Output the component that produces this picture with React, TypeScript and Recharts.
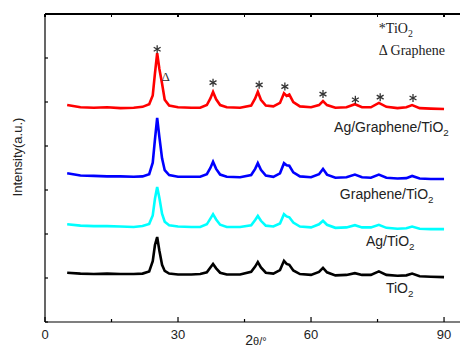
import React from "react"
import { LineChart, Line, XAxis, YAxis, ReferenceDot } from "recharts"

// 2θ positions (degrees)
const twoTheta = [
  5, 8, 11, 14, 17, 20, 22, 23.5, 24.3, 24.8, 25.3, 25.8, 26.4, 27, 28, 30, 33, 35, 36.5, 37.3, 37.9,
  38.6, 39.5, 41, 44, 46.5, 47.4, 48, 48.7, 49.8, 51.5, 53, 53.9, 54.5, 55.1, 56, 57.5, 60, 61.8,
  62.7, 63.6, 65.5, 68, 69.9, 71.5, 73.5, 75.3, 77, 79.5, 81.5, 82.8, 84.5, 87, 90,
]

// stacked intensities (offset a.u.)
const agGrapheneTio2 = [
  4.93, 4.88, 4.87, 4.88, 4.86, 4.87, 4.89, 4.95, 5.15, 5.65, 6.11, 5.75, 5.42, 5.05, 4.92, 4.88, 4.87,
  4.87, 4.93, 5.08, 5.23, 5.06, 4.93, 4.88, 4.87, 4.92, 5.08, 5.23, 5.05, 4.92, 4.9, 4.98, 5.2, 5.14,
  5.17, 5.0, 4.9, 4.88, 4.93, 5.02, 4.93, 4.87, 4.88, 4.95, 4.88, 4.88, 4.98, 4.89, 4.86, 4.88, 4.93,
  4.86, 4.85, 4.84,
]
const grapheneTio2 = [
  3.38, 3.33, 3.32, 3.31, 3.31, 3.3, 3.31, 3.36, 3.62, 4.15, 4.64, 4.2, 3.72, 3.45, 3.34, 3.3, 3.3,
  3.3, 3.36, 3.5, 3.64, 3.48, 3.35, 3.3, 3.29, 3.34, 3.48, 3.61, 3.46, 3.33, 3.3, 3.38, 3.61, 3.56,
  3.55, 3.4, 3.31, 3.29, 3.36, 3.48, 3.35, 3.28, 3.29, 3.35, 3.29, 3.28, 3.35, 3.28, 3.26, 3.27, 3.32,
  3.26, 3.25, 3.25,
]
const agTio2 = [
  2.22, 2.19, 2.18, 2.18, 2.17, 2.16, 2.18, 2.23, 2.42, 2.8, 3.07, 2.82, 2.46, 2.28, 2.2, 2.17, 2.16,
  2.16, 2.22, 2.35, 2.45, 2.33, 2.21, 2.16, 2.16, 2.2, 2.32, 2.41, 2.3, 2.19, 2.17, 2.24, 2.45, 2.4,
  2.38, 2.26, 2.17, 2.15, 2.22, 2.3, 2.21, 2.14, 2.15, 2.2, 2.15, 2.15, 2.21, 2.14, 2.12, 2.13, 2.17,
  2.12, 2.11, 2.11,
]
const tio2 = [
  1.12, 1.1, 1.09, 1.1, 1.09, 1.09, 1.1, 1.15, 1.38, 1.75, 1.93, 1.62, 1.3, 1.16, 1.1, 1.08, 1.08,
  1.09, 1.13, 1.24, 1.32, 1.22, 1.12, 1.08, 1.08, 1.14, 1.26, 1.36, 1.24, 1.12, 1.1, 1.18, 1.39, 1.32,
  1.3, 1.17, 1.09, 1.07, 1.14, 1.23, 1.13, 1.06, 1.07, 1.11, 1.07, 1.07, 1.15, 1.07, 1.05, 1.06, 1.1,
  1.04, 1.03, 1.02,
]

// TiO2 peak markers (*) on top curve
const starTheta = [25.3, 37.9, 48.3, 54.1, 62.7, 70.0, 75.6, 83.0]
const starLevel = [6.2, 5.44, 5.39, 5.35, 5.18, 5.05, 5.11, 5.09]

const xTicks = [0, 15, 30, 45, 60, 75, 90]
const yTicks = [0, 1, 2, 3, 4, 5, 6, 7]
const xMax = 93.6
const yMax = 7

// curve labels: [text, 2θ at start, level at baseline]
const curveLabels: [string, number, number][] = [
  ["Ag/Graphene/TiO", 65.2, 4.32],
  ["Graphene/TiO", 66.5, 2.8],
  ["Ag/TiO", 72.4, 1.73],
  ["TiO", 76.9, 0.66],
]

const data = twoTheta.map((t, i) => ({
  t,
  agGrapheneTio2: agGrapheneTio2[i],
  grapheneTio2: grapheneTio2[i],
  agTio2: agTio2[i],
  tio2: tio2[i],
}))

const W = 460
const H = 347
const TOP = 14
const LEFT = 45
const X_AXIS_H = 25

const sans = "'Liberation Sans', Arial, sans-serif"
const serif = "'Liberation Serif', 'Times New Roman', serif"

const BottomTick = ({ x, y, payload }: any) => {
  const major = payload.value % 30 === 0
  return (
    <g>
      <line x1={x} x2={x} y1={y} y2={y - (major ? 5 : 3)} stroke="#000" strokeWidth={1.2} />
      {major && (
        <text x={x} y={y + 17} textAnchor="middle" fontSize={13} fontFamily={sans} fill="#222">
          {payload.value}
        </text>
      )}
    </g>
  )
}

const LeftTick = ({ x, y }: any) => <line x1={x} x2={x + 3} y1={y} y2={y} stroke="#000" strokeWidth={1.2} />

const Star = ({ cx, cy }: any) => {
  const r = 4
  const dx = r * Math.cos(Math.PI / 6)
  const dy = r * Math.sin(Math.PI / 6)
  return (
    <g stroke="#333" strokeWidth={1.3}>
      <line x1={cx} x2={cx} y1={cy - r} y2={cy + r} />
      <line x1={cx - dx} x2={cx + dx} y1={cy - dy} y2={cy + dy} />
      <line x1={cx - dx} x2={cx + dx} y1={cy + dy} y2={cy - dy} />
    </g>
  )
}

const SubLabel = (text: string, font: string, size: number) => ({ cx, cy }: any) => (
  <text x={cx} y={cy} fontSize={size} fontFamily={font} fill="#222">
    {text}
    <tspan fontSize={size * 0.7} dy={4}>
      2
    </tspan>
  </text>
)

// top frame position of a 2θ value (same linear mapping as the x axis)
const frameX = (t: number) => LEFT + (t / xMax) * (W - LEFT)

export default function App() {
  return (
    <div style={{ position: "absolute", left: 0, top: 0, width: W, height: H, background: "#fff", overflow: "hidden" }}>
      <LineChart width={W} height={H} data={data} margin={{ top: TOP, right: 0, bottom: 0, left: 0 }}>
        <XAxis
          dataKey="t"
          type="number"
          domain={[0, xMax]}
          ticks={xTicks}
          allowDataOverflow
          height={X_AXIS_H}
          tickSize={0}
          tickMargin={0}
          tickLine={false}
          tick={BottomTick}
          stroke="#000"
          strokeWidth={1.2}
          interval={0}
        />
        <YAxis
          type="number"
          domain={[0, yMax]}
          ticks={yTicks}
          width={LEFT}
          tickSize={0}
          tickMargin={0}
          tickLine={false}
          tick={LeftTick}
          stroke="#000"
          strokeWidth={1.2}
          interval={0}
        />
        <Line dataKey="tio2" stroke="#000000" strokeWidth={2.6} dot={false} type="linear" isAnimationActive={false} />
        <Line dataKey="agTio2" stroke="#00ffff" strokeWidth={2.6} dot={false} type="linear" isAnimationActive={false} />
        <Line dataKey="grapheneTio2" stroke="#0000ff" strokeWidth={2.6} dot={false} type="linear" isAnimationActive={false} />
        <Line dataKey="agGrapheneTio2" stroke="#ff0000" strokeWidth={2.6} dot={false} type="linear" isAnimationActive={false} />
        {starTheta.map((t, i) => (
          <ReferenceDot key={"s" + i} x={t} y={starLevel[i]} r={0} ifOverflow="visible" shape={Star} />
        ))}
        <ReferenceDot
          x={27.2}
          y={5.48}
          r={0}
          ifOverflow="visible"
          shape={({ cx, cy }: any) => (
            <text x={cx} y={cy} textAnchor="middle" fontSize={13} fontFamily={serif} fill="#333">
              Δ
            </text>
          )}
        />
        {curveLabels.map(([text, t, v]) => (
          <ReferenceDot key={text} x={t} y={v} r={0} ifOverflow="visible" shape={SubLabel(text, sans, 14)} />
        ))}
        <ReferenceDot x={75.3} y={6.57} r={0} ifOverflow="visible" shape={SubLabel("*TiO", serif, 14)} />
        <ReferenceDot
          x={75.3}
          y={6.07}
          r={0}
          ifOverflow="visible"
          shape={({ cx, cy }: any) => (
            <text x={cx} y={cy} fontSize={14} fontFamily={serif} fill="#222">
              Δ Graphene
            </text>
          )}
        />
      </LineChart>
      {/* top frame with inward ticks */}
      <div style={{ position: "absolute", left: LEFT - 0.5, top: TOP - 0.6, width: W - LEFT, height: 1.2, background: "#000" }} />
      {xTicks.map((t) => (
        <div
          key={"tt" + t}
          style={{ position: "absolute", left: frameX(t) - 0.6, top: TOP, width: 1.2, height: 3, background: "#000" }}
        />
      ))}
      {/* axis titles */}
      <div
        style={{
          position: "absolute",
          left: 17,
          top: 157,
          transform: "translate(-50%, -50%) rotate(-90deg)",
          whiteSpace: "nowrap",
          fontFamily: sans,
          fontSize: 13,
          color: "#222",
        }}
      >
        Intensity(a.u.)
      </div>
      <div
        style={{
          position: "absolute",
          left: 256,
          top: 333,
          transform: "translateX(-50%)",
          whiteSpace: "nowrap",
          fontFamily: sans,
          color: "#222",
          lineHeight: "14px",
        }}
      >
        <span style={{ fontSize: 14 }}>2</span>
        <span style={{ fontSize: 11 }}>θ/°</span>
      </div>
    </div>
  )
}
